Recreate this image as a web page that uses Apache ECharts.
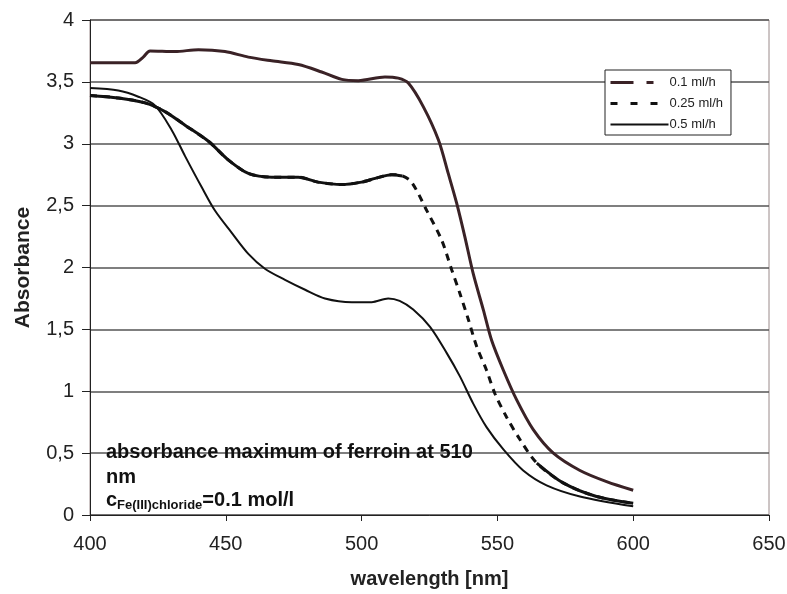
<!DOCTYPE html>
<html>
<head>
<meta charset="utf-8">
<script src="https://cdn.jsdelivr.net/npm/echarts@6/dist/echarts.min.js"></script>
<style>
  html, body { margin: 0; padding: 0; background: #fff; }
  #chart { width: 787px; height: 594px; }
</style>
</head>
<body>
<div id="chart"></div>
<script>
// absorbance spectra, values
let xTicks = [400, 450, 500, 550, 600, 650]
let yTicks = [0, 0.5, 1, 1.5, 2, 2.5, 3, 3.5, 4]

let wl01 = [400, 416.6, 419.6, 422.1, 431.3, 439.9, 449.7, 458.3, 466.9, 476.7, 485.3, 492.7, 498.8, 508.6, 513.5, 517.2,
  522.7, 528.3, 531.9, 535, 538, 541.1, 544.8, 547.9, 552.2, 557.1, 563.2, 570.6, 580.4, 590.2, 600]
let abs01 = [3.655, 3.655, 3.70, 3.75, 3.745, 3.76, 3.745, 3.70, 3.67, 3.64, 3.58, 3.52, 3.51, 3.54, 3.53, 3.49,
  3.30, 3.03, 2.76, 2.52, 2.25, 1.95, 1.66, 1.41, 1.17, 0.93, 0.69, 0.50, 0.36, 0.27, 0.20]

let wl025 = [400, 410.4, 420.3, 427.6, 435, 443.6, 450.9, 458.3, 466.9, 476.7, 484, 492.7, 500, 505, 511.1, 515, 518.4,
  524, 529.5, 533.2, 536.2, 539.3, 542.4, 546, 549.1, 553.4, 558.3, 564.5, 574.2, 586.5, 600]
let abs025 = [3.39, 3.37, 3.33, 3.26, 3.15, 3.02, 2.87, 2.76, 2.73, 2.73, 2.69, 2.67, 2.69, 2.72, 2.75, 2.74, 2.69,
  2.46, 2.22, 1.98, 1.79, 1.58, 1.36, 1.17, 0.98, 0.79, 0.61, 0.42, 0.26, 0.15, 0.095]

let wl05 = [400, 410.4, 417.8, 423.9, 430.1, 435, 441.1, 446, 452.2, 458.3, 464.4, 471.8, 479.2, 486.5, 496.4, 503.7,
  509.8, 514, 519, 525.2, 531.3, 536.2, 541.1, 546, 552.2, 559.5, 568.1, 580.4, 600]
let abs05 = [3.45, 3.43, 3.38, 3.31, 3.11, 2.90, 2.65, 2.46, 2.28, 2.11, 1.99, 1.90, 1.82, 1.75, 1.72, 1.72,
  1.75, 1.73, 1.66, 1.52, 1.31, 1.12, 0.90, 0.71, 0.53, 0.36, 0.24, 0.15, 0.07]

// the 0.25 curve is only drawn dashed in its steep part
let dashFrom = 518
let dashTo = 560

function pairs(xs, ys, lo, hi) {
  let out = []
  for (let i = 0; i < xs.length; i++) {
    if (xs[i] >= lo && xs[i] <= hi) out.push([xs[i], ys[i]])
  }
  return out
}

let myChart = echarts.init(document.getElementById('chart'))

let font = 'Liberation Sans, Arial, sans-serif'
let lblFont = { fontFamily: font, fontSize: 20, color: '#222' }
let noDot = { opacity: 0 }

let option = {
  animation: false,
  backgroundColor: '#fff',
  grid: {
    left: 90, right: 18, top: 20, bottom: 79, show: true,
    borderColor: '#9a8a8a', borderWidth: 1,
    containLabel: false, outerBoundsMode: 'none'
  },
  legend: {
    left: 605, top: 70,
    orient: 'vertical',
    backgroundColor: '#fff',
    borderColor: '#222', borderWidth: 1, borderRadius: 0,
    padding: [6, 8, 4, 4],
    itemGap: 8,
    itemWidth: 58, itemHeight: 14,
    textStyle: { fontFamily: font, fontSize: 13, color: '#222', padding: [0, 0, 0, -4] },
    data: [
      { name: '0.1 ml/h', itemStyle: noDot, lineStyle: { color: '#3a2226', width: 3, type: [23, 13, 7, 20] } },
      { name: '0.25 ml/h', itemStyle: noDot, lineStyle: { color: '#111', width: 3, type: [7, 13] } },
      { name: '0.5 ml/h', itemStyle: noDot, lineStyle: { color: '#111', width: 2, type: 'solid' } }
    ]
  },
  xAxis: {
    type: 'value', min: 400, max: 650, interval: 50,
    name: 'wavelength [nm]', nameLocation: 'middle', nameGap: 54,
    nameTextStyle: { fontFamily: font, fontSize: 20, fontWeight: 'bold', color: '#222' },
    axisLine: { onZero: false, lineStyle: { color: '#222', width: 1 } },
    axisTick: { show: true, length: 6, lineStyle: { color: '#222' } },
    axisLabel: Object.assign({ margin: 19 }, lblFont, {
      formatter: function(v) { return xTicks.indexOf(v) >= 0 ? String(v) : '' }
    }),
    splitLine: { show: false }
  },
  yAxis: {
    type: 'value', min: 0, max: 4, interval: 0.5,
    name: 'Absorbance', nameLocation: 'middle', nameGap: 56, nameRotate: 90,
    nameTextStyle: { fontFamily: font, fontSize: 21, fontWeight: 'bold', color: '#222' },
    axisLine: { show: true, lineStyle: { color: '#222', width: 1 } },
    axisTick: { show: true, length: 8, lineStyle: { color: '#222' } },
    axisLabel: Object.assign({ margin: 16 }, lblFont, {
      formatter: function(v) { return yTicks.indexOf(v) >= 0 ? String(v).replace('.', ',') : '' }
    }),
    splitLine: { show: true, lineStyle: { color: '#555', width: 1.5 } }
  },
  series: [
    {
      name: '0.1 ml/h', type: 'line', symbol: 'none', smooth: 0.3,
      data: pairs(wl01, abs01, 0, 1000),
      lineStyle: { color: '#3a2226', width: 3 }, itemStyle: { color: '#3a2226' }, z: 4
    },
    {
      name: '0.25 ml/h', type: 'line', symbol: 'none', smooth: 0.3,
      data: pairs(wl025, abs025, 0, 1000),
      lineStyle: { color: '#111', width: 3, type: [7, 6] }, itemStyle: { color: '#111' }, z: 3
    },
    {
      name: '0.25 solid a', type: 'line', symbol: 'none', smooth: 0.3,
      data: pairs(wl025, abs025, 0, dashFrom),
      lineStyle: { color: '#111', width: 3 }, z: 3
    },
    {
      name: '0.25 solid b', type: 'line', symbol: 'none', smooth: 0.3,
      data: pairs(wl025, abs025, dashTo, 1000),
      lineStyle: { color: '#111', width: 3 }, z: 3
    },
    {
      name: '0.5 ml/h', type: 'line', symbol: 'none', smooth: 0.3,
      data: pairs(wl05, abs05, 0, 1000),
      lineStyle: { color: '#111', width: 2 }, itemStyle: { color: '#111' }, z: 3
    }
  ],
  graphic: [
    {
      type: 'text', left: 106, top: 440, z: 10,
      style: {
        text: 'absorbance maximum of ferroin at 510\nnm',
        fontFamily: font, fontSize: 20, fontWeight: 'bold',
        fill: '#111', lineHeight: 25
      }
    },
    {
      type: 'text', left: 106, top: 489, z: 10,
      style: {
        text: '{c|c}{s|Fe(III)chloride}{c|=0.1 mol/l}',
        rich: {
          c: { fontFamily: font, fontSize: 20, fontWeight: 'bold', fill: '#111', lineHeight: 22 },
          s: { fontFamily: font, fontSize: 13, fontWeight: 'bold', fill: '#111', padding: [10, 0, 0, 0], lineHeight: 22 }
        }
      }
    }
  ]
}

myChart.setOption(option)
</script>
</body>
</html>
